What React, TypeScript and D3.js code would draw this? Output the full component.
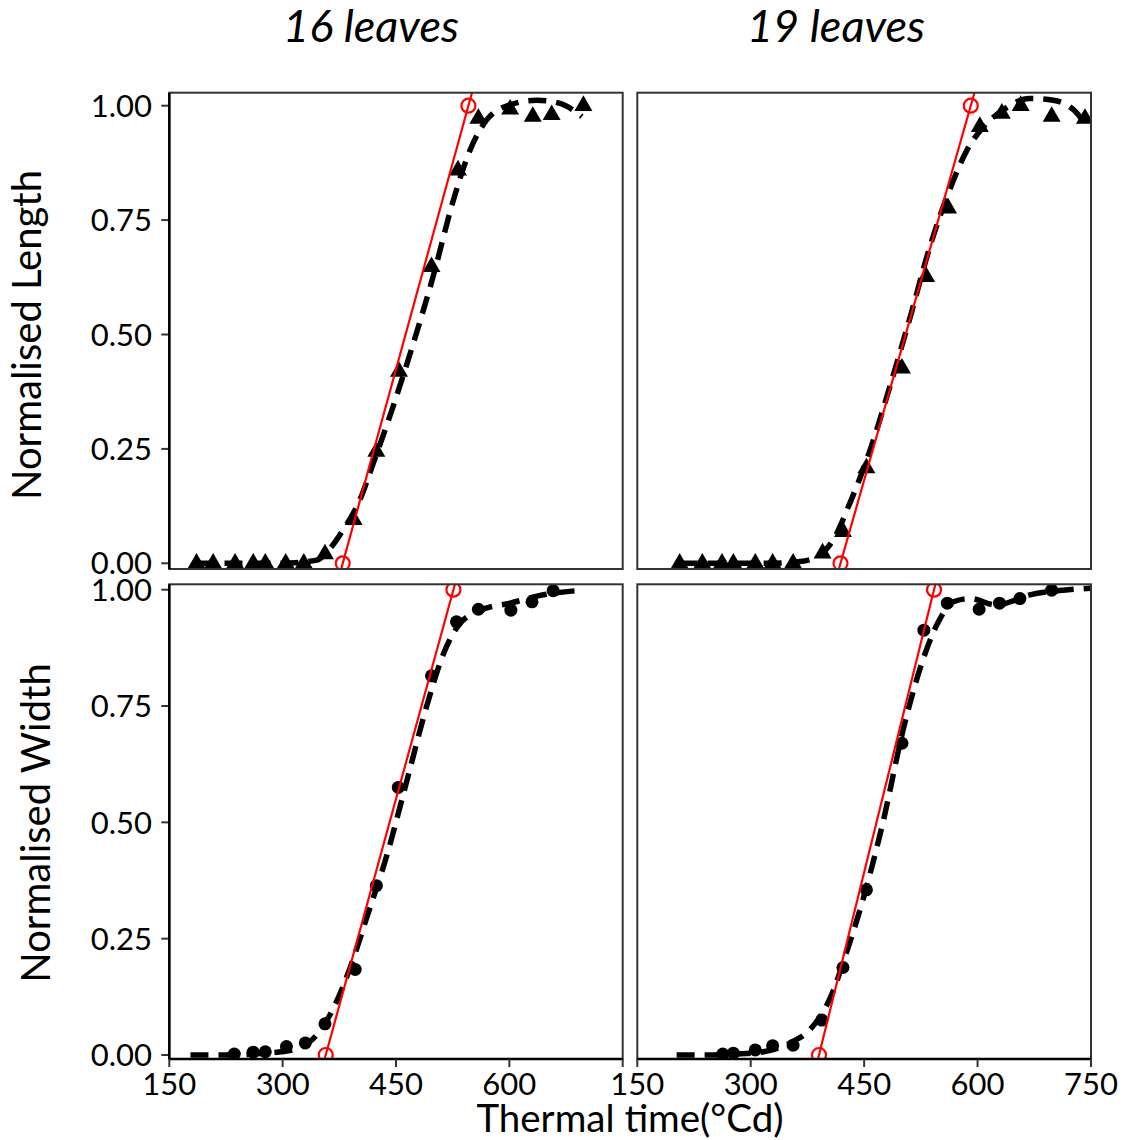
import React from "react";
import * as d3 from "d3";

// ---------- DATA ----------
const columnTitles = ["16 leaves", "19 leaves"];
const rowTitles = ["Normalised Length", "Normalised Width"];
const xTicksLeft = [150, 300, 450, 600];
const xTicksRight = [150, 300, 450, 600, 750];
const yTicks = [0, 0.25, 0.5, 0.75, 1.0];

// Length, 16 leaves (triangles)
const len16X = [186, 208, 237, 261, 277, 304, 328, 356, 394, 424, 454, 497, 532, 559, 601, 631, 656, 698];
const len16Y = [0, 0, 0, 0, 0, 0, 0, 0.02, 0.095, 0.244, 0.419, 0.648, 0.859, 0.972, 0.992, 0.976, 0.98, 1.0];
const len16FitX = [186, 250, 300, 345, 363, 380, 402, 420, 446, 473, 499, 526, 548, 570, 601, 636, 667, 696];
const len16FitY = [0, 0, 0, 0.007, 0.033, 0.073, 0.138, 0.219, 0.342, 0.481, 0.626, 0.794, 0.903, 0.969, 1.002, 1.012, 1.005, 0.976];
const len16Red = [379.5, 545.8];

// Length, 19 leaves (triangles)
const len19X = [206, 236, 262, 277, 306, 329, 356, 395, 422, 453, 500, 532, 561, 603, 632, 657, 698, 742];
const len19Y = [0, 0, 0, 0, 0, 0, 0, 0.022, 0.069, 0.208, 0.426, 0.626, 0.776, 0.954, 0.983, 1.0, 0.976, 0.972];
const len19FitX = [206, 260, 320, 365, 387, 409, 431, 458, 484, 511, 537, 563, 586, 608, 634, 669, 700, 727, 745];
const len19FitY = [0, 0, 0, 0.004, 0.014, 0.051, 0.131, 0.248, 0.386, 0.539, 0.692, 0.816, 0.903, 0.954, 0.991, 1.016, 1.012, 0.991, 0.954];
const len19Red = [418.7, 591];

// Width, 16 leaves (dots)
const wid16X = [236, 261, 277, 305, 330, 356, 396, 424, 453, 497, 530, 559, 602, 630, 658];
const wid16Y = [0.002, 0.006, 0.007, 0.018, 0.026, 0.067, 0.184, 0.364, 0.575, 0.815, 0.931, 0.958, 0.956, 0.974, 0.998];
const wid16FitX = [178, 226, 270, 314, 345, 367, 389, 411, 438, 464, 491, 513, 533, 562, 601, 645, 698];
const wid16FitY = [0, 0, 0.003, 0.011, 0.043, 0.1, 0.186, 0.294, 0.43, 0.587, 0.752, 0.863, 0.924, 0.956, 0.971, 0.989, 0.999];
const wid16Red = [357, 526];

// Width, 19 leaves (dots)
const wid19X = [263, 277, 306, 329, 356, 394, 422, 453, 500, 529, 560, 602, 629, 656, 698];
const wid19Y = [0.002, 0.004, 0.011, 0.02, 0.021, 0.075, 0.188, 0.355, 0.67, 0.913, 0.971, 0.958, 0.971, 0.981, 0.999];
const wid19FitX = [202, 240, 280, 317, 356, 378, 405, 427, 449, 475, 502, 524, 546, 568, 590, 625, 669, 713, 749];
const wid19FitY = [0, 0, 0.002, 0.007, 0.029, 0.054, 0.122, 0.222, 0.337, 0.501, 0.702, 0.831, 0.924, 0.974, 0.981, 0.967, 0.989, 0.999, 1.003];
const wid19Red = [390.3, 542.4];

// ---------- LAYOUT ----------
const W = 1129, H = 1140;
const colX = [[169.3, 622.7], [637.3, 1091]];
const rowY = [
  { top: 92.7, bottom: 569, y0: 563.3, y1: 105.7 },
  { top: 584.3, bottom: 1059, y0: 1055, y1: 589.7 },
];
const FONT = "Lato, 'Open Sans', sans-serif";

type Panel = {
  col: number; row: number; px: number[]; py: number[]; fx: number[]; fy: number[]; red: number[]; shape: "tri" | "dot";
};

const panels: Panel[] = [
  { col: 0, row: 0, px: len16X, py: len16Y, fx: len16FitX, fy: len16FitY, red: len16Red, shape: "tri" },
  { col: 1, row: 0, px: len19X, py: len19Y, fx: len19FitX, fy: len19FitY, red: len19Red, shape: "tri" },
  { col: 0, row: 1, px: wid16X, py: wid16Y, fx: wid16FitX, fy: wid16FitY, red: wid16Red, shape: "dot" },
  { col: 1, row: 1, px: wid19X, py: wid19Y, fx: wid19FitX, fy: wid19FitY, red: wid19Red, shape: "dot" },
];

function PanelView({ p }: { p: Panel }) {
  const [xl, xr] = colX[p.col];
  const r = rowY[p.row];
  const x = d3.scaleLinear().domain([150, 750]).range([xl, xr]);
  const y = d3.scaleLinear().domain([0, 1]).range([r.y0, r.y1]);
  const id = `clip-${p.col}-${p.row}`;
  const fit = d3
    .line<number>()
    .x((_, i) => x(p.fx[i]))
    .y((_, i) => y(p.fy[i]))
    .curve(d3.curveMonotoneX)(p.fx.map((v) => v)) as string;
  const yLo = y.invert(r.bottom), yHi = y.invert(r.top);
  const xAt = (yy: number) => p.red[0] + (p.red[1] - p.red[0]) * yy;
  const tri = d3.symbol(d3.symbolTriangle, 140)() as string;
  return (
    <g>
      <defs>
        <clipPath id={id}>
          <rect x={xl} y={r.top} width={xr - xl} height={r.bottom - r.top} />
        </clipPath>
      </defs>
      <rect x={xl} y={r.top} width={xr - xl} height={r.bottom - r.top} fill="#fff" />
      <g clipPath={`url(#${id})`}>
        {p.px.map((v, i) =>
          p.shape === "tri" ? (
            <path key={i} d={tri} transform={`translate(${x(v)},${y(p.py[i])})`} fill="#000" />
          ) : (
            <circle key={i} cx={x(v)} cy={y(p.py[i])} r={6.5} fill="#000" />
          )
        )}
        <path d={fit} fill="none" stroke="#000" strokeWidth={5.5} strokeDasharray="18 10" />
        <line x1={x(xAt(yLo))} y1={y(yLo)} x2={x(xAt(yHi))} y2={y(yHi)} stroke="#ff0000" strokeWidth={2.2} />
        <circle cx={x(p.red[0])} cy={y(0)} r={7} fill="none" stroke="#ff0000" strokeWidth={2.2} />
        <circle cx={x(p.red[1])} cy={y(1)} r={7} fill="none" stroke="#ff0000" strokeWidth={2.2} />
      </g>
      <rect x={xl} y={r.top} width={xr - xl} height={r.bottom - r.top} fill="none" stroke="#333" strokeWidth={2} />
      {p.col === 0 &&
        yTicks.map((t) => (
          <g key={t}>
            <line x1={xl - 8} x2={xl} y1={y(t)} y2={y(t)} stroke="#333" strokeWidth={2} />
            <text x={152} y={y(t)} dy="0.36em" textAnchor="end" fontSize={31} fontFamily={FONT} fill="#000">
              {t.toFixed(2)}
            </text>
          </g>
        ))}
      {p.col === 0 && <line x1={xl} x2={xl} y1={r.top} y2={r.bottom} stroke="#000" strokeWidth={2.5} />}
      {p.row === 1 && (
        <g>
          <line x1={xl} x2={xr} y1={r.bottom} y2={r.bottom} stroke="#000" strokeWidth={2.5} />
          {[150, 300, 450, 600, 750].map((t) => (
            <line key={t} x1={x(t)} x2={x(t)} y1={r.bottom} y2={r.bottom + 8} stroke="#333" strokeWidth={2} />
          ))}
          {(p.col === 0 ? xTicksLeft : xTicksRight).map((t) => (
            <text key={t} x={x(t)} y={1095} textAnchor="middle" fontSize={31} fontFamily={FONT} fill="#000">
              {t}
            </text>
          ))}
        </g>
      )}
    </g>
  );
}

export default function App() {
  return (
    <svg
      width={W}
      height={H}
      viewBox={`0 0 ${W} ${H}`}
      style={{ position: "absolute", left: 0, top: 0, display: "block", background: "#fff" }}
    >
      <rect width={W} height={H} fill="#fff" />
      {panels.map((p, i) => (
        <PanelView key={i} p={p} />
      ))}
      <text x={371} y={42} textAnchor="middle" fontSize={45} fontStyle="italic" fontFamily={FONT}>
        {columnTitles[0]}
      </text>
      <text x={836} y={42} textAnchor="middle" fontSize={45} fontStyle="italic" fontFamily={FONT}>
        {columnTitles[1]}
      </text>
      <text transform="translate(41,335) rotate(-90)" textAnchor="middle" fontSize={40} fontFamily={FONT}>
        {rowTitles[0]}
      </text>
      <text transform="translate(50,823) rotate(-90)" textAnchor="middle" fontSize={40} fontFamily={FONT}>
        {rowTitles[1]}
      </text>
      <text x={630} y={1132} textAnchor="middle" fontSize={38.5} fontFamily={FONT}>
        Thermal time(°Cd)
      </text>
    </svg>
  );
}
